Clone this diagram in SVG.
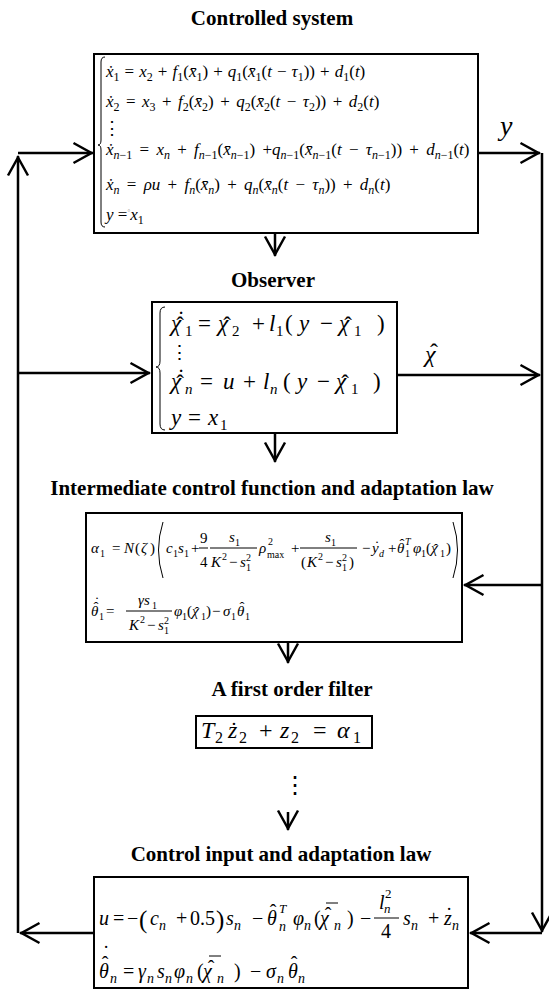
<svg xmlns="http://www.w3.org/2000/svg" width="549" height="991" viewBox="0 0 549 991">
<style>
.f{font-family:"Liberation Serif","Times New Roman",serif;fill:#000}
.ttl{font-family:"Liberation Serif","Times New Roman",serif;font-weight:bold;font-size:21px;text-anchor:middle;fill:#000}
.i{font-style:italic}
.box{fill:#fff;stroke:#000;stroke-width:2}
.br{fill:none;stroke:#000;stroke-width:1}
.sb{font-size:12px;baseline-shift:-4px}
.acc{text-anchor:middle}
.con{fill:none;stroke:#000;stroke-width:2.5}
.ln{stroke:#000;stroke-width:1}
.dots{font-family:"DejaVu Serif",serif;fill:#000}
</style>
<defs>
<marker id="ah" viewBox="-22 -12 26 24" refX="1.5" refY="0" markerWidth="26" markerHeight="24" markerUnits="userSpaceOnUse" orient="auto">
<path d="M-18,-10 L0,0 L-18,10" fill="none" stroke="#000" stroke-width="2.5"/>
</marker>
</defs>
<rect width="549" height="991" fill="#fff"/>

<g id="connectors">
<path class="con" d="M18,933 L18,156" marker-end="url(#ah)"/>
<path class="con" d="M18,153 L93,153" marker-end="url(#ah)"/>
<path class="con" d="M18,373 L150,373" marker-end="url(#ah)"/>
<path class="con" d="M94,933 L20,933" marker-end="url(#ah)"/>
<path class="con" d="M478,153 L540,153" marker-end="url(#ah)"/>
<path class="con" d="M542,153 L542,932" marker-end="url(#ah)"/>
<path class="con" d="M397,375 L540,375" marker-end="url(#ah)"/>
<path class="con" d="M542,585 L464,585" marker-end="url(#ah)"/>
<path class="con" d="M542,933 L470,933" marker-end="url(#ah)"/>
<path class="con" d="M275,233 L275,256" marker-end="url(#ah)"/>
<path class="con" d="M275,433 L275,462" marker-end="url(#ah)"/>
<path class="con" d="M288,642 L288,663" marker-end="url(#ah)"/>
<path class="con" d="M288,812 L288,830" marker-end="url(#ah)"/>
<text class="f i" font-size="28" x="500" y="135">y</text>
<text class="f i" font-size="24" x="425" y="362">χ</text>
<text class="f acc" font-size="24" x="434" y="360">ˆ</text>
<text class="dots" font-size="24" x="283" y="793">⋮</text>
</g>

<g id="controlled-system">
<text class="ttl" x="272" y="25">Controlled system</text>
<rect class="box" x="94" y="54" width="384" height="179"/>
<path class="br" d="M105,57 Q101,57 101,62 L101,140 Q101,145 98,145 Q101,145 101,150 L101,222 Q101,227 105,227"/>
<text class="f" font-size="17" x="106" y="77" word-spacing="0.8"><tspan class="i">ẋ</tspan><tspan class="sb">1</tspan> = <tspan class="i">x</tspan><tspan class="sb">2</tspan> + <tspan class="i">f</tspan><tspan class="sb">1</tspan>(<tspan class="i">x̄</tspan><tspan class="sb">1</tspan>) + <tspan class="i">q</tspan><tspan class="sb">1</tspan>(<tspan class="i">x̄</tspan><tspan class="sb">1</tspan>(<tspan class="i">t</tspan> − <tspan class="i">τ</tspan><tspan class="sb">1</tspan>)) + <tspan class="i">d</tspan><tspan class="sb">1</tspan>(<tspan class="i">t</tspan>)</text>
<text class="f" font-size="17" x="106" y="107" word-spacing="2.2"><tspan class="i">ẋ</tspan><tspan class="sb">2</tspan> = <tspan class="i">x</tspan><tspan class="sb">3</tspan> + <tspan class="i">f</tspan><tspan class="sb">2</tspan>(<tspan class="i">x̄</tspan><tspan class="sb">2</tspan>) + <tspan class="i">q</tspan><tspan class="sb">2</tspan>(<tspan class="i">x̄</tspan><tspan class="sb">2</tspan>(<tspan class="i">t</tspan> − <tspan class="i">τ</tspan><tspan class="sb">2</tspan>)) + <tspan class="i">d</tspan><tspan class="sb">2</tspan>(<tspan class="i">t</tspan>)</text>
<text class="dots" font-size="18" x="103" y="134">⋮</text>
<text class="f" font-size="17" x="106" y="155" word-spacing="3"><tspan class="i">ẋ</tspan><tspan class="sb"><tspan class="i">n</tspan>−1</tspan> = <tspan class="i">x</tspan><tspan class="sb i">n</tspan> + <tspan class="i">f</tspan><tspan class="sb"><tspan class="i">n</tspan>−1</tspan>(<tspan class="i">x̄</tspan><tspan class="sb"><tspan class="i">n</tspan>−1</tspan>) +<tspan class="i">q</tspan><tspan class="sb"><tspan class="i">n</tspan>−1</tspan>(<tspan class="i">x̄</tspan><tspan class="sb"><tspan class="i">n</tspan>−1</tspan>(<tspan class="i">t</tspan> − <tspan class="i">τ</tspan><tspan class="sb"><tspan class="i">n</tspan>−1</tspan>)) + <tspan class="i">d</tspan><tspan class="sb"><tspan class="i">n</tspan>−1</tspan>(<tspan class="i">t</tspan>)</text>
<text class="f" font-size="17" x="106" y="190" word-spacing="3"><tspan class="i">ẋ</tspan><tspan class="sb i">n</tspan> = <tspan class="i">ρu</tspan> + <tspan class="i">f</tspan><tspan class="sb i">n</tspan>(<tspan class="i">x̄</tspan><tspan class="sb i">n</tspan>) + <tspan class="i">q</tspan><tspan class="sb i">n</tspan>(<tspan class="i">x̄</tspan><tspan class="sb i">n</tspan>(<tspan class="i">t</tspan> − <tspan class="i">τ</tspan><tspan class="sb i">n</tspan>)) + <tspan class="i">d</tspan><tspan class="sb i">n</tspan>(<tspan class="i">t</tspan>)</text>
<text class="f" font-size="17" x="106" y="220"><tspan class="i">y</tspan> =<tspan font-size="7" fill="#999" dy="-6">°</tspan><tspan dy="6" class="i">x</tspan><tspan class="sb">1</tspan></text>
</g>

<g id="observer">
<text class="ttl" x="273" y="287">Observer</text>
<rect class="box" x="152" y="302" width="245" height="131"/>
<path class="br" d="M165,307 Q160,307 160,313 L160,361 Q160,367 156,367 Q160,367 160,373 L160,424 Q160,430 165,430"/>
<text class="f" font-size="23">
<tspan class="i" x="171" y="331">χ</tspan><tspan x="185" y="336" font-size="15">1</tspan>
<tspan x="198" y="331">=</tspan>
<tspan class="i" x="218" y="331">χ</tspan><tspan x="232" y="336" font-size="15">2</tspan>
<tspan x="252" y="331">+</tspan>
<tspan class="i" x="269" y="331">l</tspan><tspan x="276" y="336" font-size="15">1</tspan>
<tspan x="285" y="331">(</tspan><tspan class="i" x="299" y="331">y</tspan>
<tspan x="320" y="331">−</tspan>
<tspan class="i" x="339" y="331">χ</tspan><tspan x="354" y="336" font-size="15">1</tspan>
<tspan x="377" y="331">)</tspan>
</text>
<text class="f acc" font-size="23"><tspan x="180" y="333">ˆ</tspan><tspan x="227" y="333">ˆ</tspan><tspan x="348" y="333">ˆ</tspan><tspan x="181" y="327">˙</tspan></text>
<text class="dots" font-size="19" x="170" y="359">⋮</text>
<text class="f" font-size="23">
<tspan class="i" x="171" y="389">χ</tspan><tspan class="i" x="185" y="394" font-size="15">n</tspan>
<tspan x="200" y="389">=</tspan>
<tspan class="i" x="223" y="389">u</tspan>
<tspan x="243" y="389">+</tspan>
<tspan class="i" x="263" y="389">l</tspan><tspan class="i" x="270" y="394" font-size="15">n</tspan>
<tspan x="283" y="389">(</tspan><tspan class="i" x="297" y="389">y</tspan>
<tspan x="317" y="389">−</tspan>
<tspan class="i" x="336" y="389">χ</tspan><tspan x="351" y="394" font-size="15">1</tspan>
<tspan x="373" y="389">)</tspan>
</text>
<text class="f acc" font-size="23"><tspan x="180" y="391">ˆ</tspan><tspan x="345" y="391">ˆ</tspan><tspan x="181" y="385">˙</tspan></text>
<text class="f" font-size="23"><tspan class="i" x="171" y="425">y</tspan><tspan x="188" y="425">=</tspan><tspan class="i" x="208" y="425">x</tspan><tspan x="220" y="430" font-size="15">1</tspan></text>
</g>

<g id="intermediate">
<text class="ttl" x="272" y="495">Intermediate control function and adaptation law</text>
<rect class="box" x="86" y="513" width="376" height="129"/>
<path class="br" d="M163,522 Q154,550 163,578"/>
<path class="br" d="M453,522 Q462,550 453,578"/>
<line class="ln" x1="199" y1="548" x2="208" y2="548"/>
<line class="ln" x1="210" y1="548" x2="257" y2="548"/>
<line class="ln" x1="300" y1="548" x2="357" y2="548"/>
<line class="ln" x1="126" y1="611" x2="172" y2="611"/>
<text class="f" font-size="15">
<tspan class="i" x="91" y="553">α</tspan><tspan x="100" y="557" font-size="10">1</tspan>
<tspan x="112" y="553">=</tspan>
<tspan class="i" x="124" y="553">N</tspan><tspan x="135" y="553">(</tspan><tspan class="i" x="141" y="553">ζ</tspan><tspan x="150" y="553">)</tspan>
<tspan class="i" x="166" y="553">c</tspan><tspan x="173" y="557" font-size="10">1</tspan><tspan class="i" x="178" y="553">s</tspan><tspan x="184" y="557" font-size="10">1</tspan>
<tspan x="191" y="553">+</tspan>
<tspan x="200" y="543">9</tspan><tspan x="200" y="567">4</tspan>
<tspan class="i" x="229" y="542">s</tspan><tspan x="235" y="546" font-size="10">1</tspan>
<tspan class="i" x="211" y="567">K</tspan><tspan x="222" y="560" font-size="10">2</tspan><tspan x="229" y="567">−</tspan><tspan class="i" x="240" y="567">s</tspan><tspan x="246" y="571" font-size="10">1</tspan><tspan x="246" y="561" font-size="10">2</tspan>
<tspan class="i" x="259" y="553">ρ</tspan><tspan x="268" y="545" font-size="10">2</tspan><tspan x="267" y="558" font-size="10">max</tspan>
<tspan x="291" y="553">+</tspan>
<tspan class="i" x="325" y="542">s</tspan><tspan x="331" y="546" font-size="10">1</tspan>
<tspan x="301" y="567">(</tspan><tspan class="i" x="307" y="567">K</tspan><tspan x="318" y="560" font-size="10">2</tspan><tspan x="325" y="567">−</tspan><tspan class="i" x="336" y="567">s</tspan><tspan x="342" y="571" font-size="10">1</tspan><tspan x="342" y="561" font-size="10">2</tspan><tspan x="349" y="567">)</tspan>
<tspan x="362" y="553">−</tspan><tspan class="i" x="372" y="553">y</tspan><tspan class="i" x="379" y="557" font-size="10">d</tspan>
<tspan x="388" y="553">+</tspan><tspan class="i" x="397" y="553">θ</tspan><tspan class="i" x="405" y="545" font-size="10">T</tspan><tspan x="405" y="557" font-size="10">1</tspan>
<tspan class="i" x="413" y="553">φ</tspan><tspan x="421" y="557" font-size="10">1</tspan><tspan x="426" y="553">(</tspan><tspan class="i" x="431" y="553">χ</tspan><tspan x="440" y="557" font-size="10">1</tspan><tspan x="446" y="553">)</tspan>
</text>
<text class="f acc" font-size="15"><tspan x="377" y="551">˙</tspan><tspan x="402" y="549">ˆ</tspan><tspan x="436" y="554">ˆ</tspan></text>
<text class="f" font-size="15">
<tspan class="i" x="91" y="616">θ</tspan><tspan x="99" y="620" font-size="10">1</tspan><tspan x="106" y="616">=</tspan>
<tspan class="i" x="138" y="605">γs</tspan><tspan x="152" y="609" font-size="10">1</tspan>
<tspan class="i" x="129" y="630">K</tspan><tspan x="140" y="623" font-size="10">2</tspan><tspan x="147" y="630">−</tspan><tspan class="i" x="158" y="630">s</tspan><tspan x="164" y="634" font-size="10">1</tspan><tspan x="164" y="624" font-size="10">2</tspan>
<tspan class="i" x="174" y="616">φ</tspan><tspan x="182" y="620" font-size="10">1</tspan><tspan x="187" y="616">(</tspan><tspan class="i" x="192" y="616">χ</tspan><tspan x="201" y="620" font-size="10">1</tspan><tspan x="206" y="616">)</tspan>
<tspan x="212" y="616">−</tspan><tspan class="i" x="223" y="616">σ</tspan><tspan x="231" y="620" font-size="10">1</tspan><tspan class="i" x="237" y="616">θ</tspan><tspan x="245" y="620" font-size="10">1</tspan>
</text>
<text class="f acc" font-size="15"><tspan x="96" y="612">ˆ</tspan><tspan x="97" y="607">˙</tspan><tspan x="197" y="617">ˆ</tspan><tspan x="242" y="612">ˆ</tspan></text>
</g>

<g id="filter">
<text class="ttl" x="292" y="696">A first order filter</text>
<rect class="box" x="196" y="716" width="176" height="32"/>
<text class="f" font-size="24">
<tspan class="i" x="201" y="738">T</tspan><tspan x="215" y="743" font-size="16">2</tspan>
<tspan class="i" x="228" y="738">z</tspan><tspan x="239" y="743" font-size="16">2</tspan>
<tspan x="259" y="738">+</tspan>
<tspan class="i" x="280" y="738">z</tspan><tspan x="291" y="743" font-size="16">2</tspan>
<tspan x="313" y="738">=</tspan>
<tspan class="i" x="337" y="738">α</tspan><tspan x="353" y="743" font-size="16">1</tspan>
</text>
<text class="f acc" font-size="22" x="234" y="737">˙</text>
</g>

<g id="control-input">
<text class="ttl" x="281" y="861">Control input and adaptation law</text>
<rect class="box" x="94" y="877" width="374" height="111"/>
<line class="ln" x1="374" y1="918" x2="399" y2="918"/>
<line class="ln" x1="326" y1="903" x2="338" y2="903"/>
<line class="ln" x1="209" y1="956" x2="221" y2="956"/>
<text class="f" font-size="20">
<tspan class="i" x="99" y="925">u</tspan>
<tspan x="113" y="925">=</tspan>
<tspan x="127" y="925">−</tspan>
<tspan x="139" y="928" font-size="25">(</tspan>
<tspan class="i" x="150" y="925">c</tspan><tspan class="i" x="159" y="930" font-size="14">n</tspan>
<tspan x="176" y="925">+</tspan>
<tspan x="190" y="925">0.5</tspan>
<tspan x="216" y="928" font-size="25">)</tspan>
<tspan class="i" x="226" y="925">s</tspan><tspan class="i" x="234" y="930" font-size="14">n</tspan>
<tspan x="252" y="925">−</tspan>
<tspan class="i" x="267" y="925">θ</tspan><tspan class="i" x="279" y="913" font-size="13">T</tspan><tspan class="i" x="279" y="931" font-size="14">n</tspan>
<tspan class="i" x="293" y="925">φ</tspan><tspan class="i" x="304" y="930" font-size="14">n</tspan>
<tspan x="314" y="925">(</tspan>
<tspan class="i" x="320" y="925">χ</tspan><tspan class="i" x="334" y="930" font-size="14">n</tspan>
<tspan x="347" y="925">)</tspan>
<tspan x="360" y="925">−</tspan>
<tspan class="i" x="379" y="909">l</tspan><tspan class="i" x="384" y="913" font-size="13">n</tspan><tspan x="385" y="898" font-size="13">2</tspan>
<tspan x="381" y="938">4</tspan>
<tspan class="i" x="403" y="925">s</tspan><tspan class="i" x="411" y="930" font-size="14">n</tspan>
<tspan x="428" y="925">+</tspan>
<tspan class="i" x="444" y="925">z</tspan><tspan class="i" x="452" y="930" font-size="14">n</tspan>
</text>
<text class="f acc" font-size="20"><tspan x="273" y="919">ˆ</tspan><tspan x="328" y="922">ˆ</tspan><tspan x="449" y="922">˙</tspan></text>
<text class="f" font-size="20">
<tspan class="i" x="99" y="978">θ</tspan><tspan class="i" x="110" y="983" font-size="14">n</tspan>
<tspan x="123" y="978">=</tspan>
<tspan class="i" x="138" y="978">γ</tspan><tspan class="i" x="147" y="983" font-size="14">n</tspan>
<tspan class="i" x="157" y="978">s</tspan><tspan class="i" x="165" y="983" font-size="14">n</tspan>
<tspan class="i" x="174" y="978">φ</tspan><tspan class="i" x="186" y="983" font-size="14">n</tspan>
<tspan x="197" y="978">(</tspan>
<tspan class="i" x="203" y="978">χ</tspan><tspan class="i" x="217" y="983" font-size="14">n</tspan>
<tspan x="234" y="978">)</tspan>
<tspan x="250" y="978">−</tspan>
<tspan class="i" x="266" y="978">σ</tspan><tspan class="i" x="277" y="983" font-size="14">n</tspan>
<tspan class="i" x="288" y="978">θ</tspan><tspan class="i" x="298" y="983" font-size="14">n</tspan>
</text>
<text class="f acc" font-size="20"><tspan x="105" y="971">ˆ</tspan><tspan x="106" y="960">˙</tspan><tspan x="211" y="975">ˆ</tspan><tspan x="294" y="971">ˆ</tspan></text>
</g>
</svg>
